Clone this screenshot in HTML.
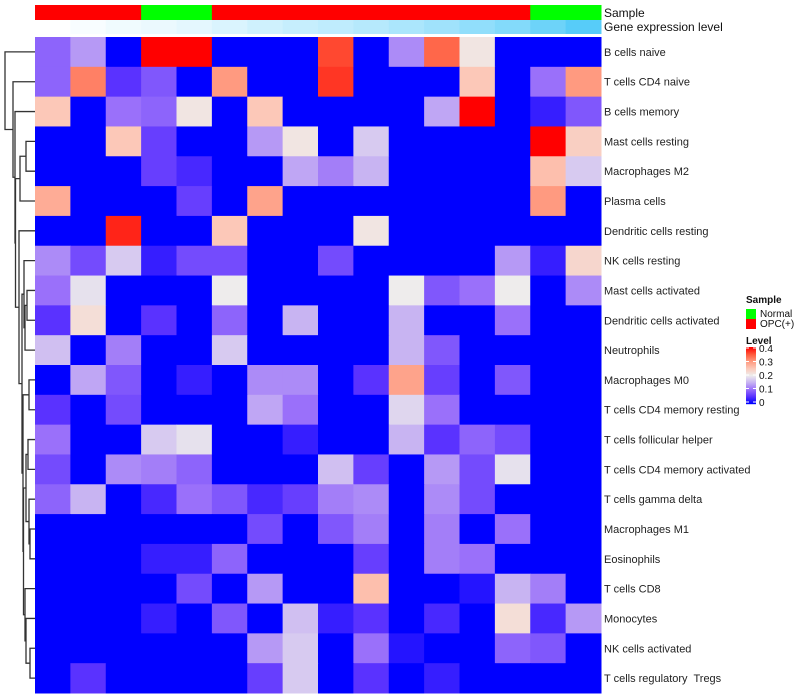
<!DOCTYPE html>
<html><head><meta charset="utf-8"><style>
html,body{margin:0;padding:0;background:#fff;}
svg{display:block;font-family:"Liberation Sans",sans-serif;}
</style></head><body>
<svg id="chart" width="800" height="700" viewBox="0 0 800 700" xmlns="http://www.w3.org/2000/svg"></svg>
<script>
const rowLabels = ["B cells naive","T cells CD4 naive","B cells memory","Mast cells resting","Macrophages M2","Plasma cells","Dendritic cells resting","NK cells resting","Mast cells activated","Dendritic cells activated","Neutrophils","Macrophages M0","T cells CD4 memory resting","T cells follicular helper","T cells CD4 memory activated","T cells gamma delta","Macrophages M1","Eosinophils","T cells CD8","Monocytes","NK cells activated","T cells regulatory  Tregs"];
const sampleGroups = ["OPC","OPC","OPC","Normal","Normal","OPC","OPC","OPC","OPC","OPC","OPC","OPC","OPC","OPC","Normal","Normal"];
const geneLevel = [0,0.04,0.08,0.11,0.15,0.2,0.26,0.31,0.35,0.4,0.46,0.52,0.6,0.68,0.8,0.92];
const legendTicks = [0,0.1,0.2,0.3,0.4];
const values = [
[0.09,0.13,0,0.4,0.4,0,0,0,0.36,0,0.12,0.34,0.21,0,0,0],
[0.09,0.32,0.05,0.08,0,0.3,0,0,0.37,0,0,0,0.25,0,0.1,0.3],
[0.25,0,0.1,0.09,0.21,0,0.25,0,0,0,0,0.14,0.4,0,0.03,0.08],
[0,0,0.25,0.06,0,0,0.13,0.21,0,0.17,0,0,0,0,0.4,0.24],
[0,0,0,0.06,0.04,0,0,0.14,0.11,0.15,0,0,0,0,0.26,0.17],
[0.28,0,0,0,0.06,0,0.29,0,0,0,0,0,0,0,0.3,0],
[0,0,0.38,0,0,0.25,0,0,0,0.21,0,0,0,0,0,0],
[0.12,0.07,0.17,0.03,0.07,0.07,0,0,0.07,0,0,0,0,0.13,0.03,0.23],
[0.1,0.19,0,0,0,0.2,0,0,0,0,0.2,0.08,0.1,0.2,0,0.12],
[0.05,0.22,0,0.05,0,0.09,0,0.15,0,0,0.15,0,0,0.1,0,0],
[0.16,0,0.11,0,0,0.17,0,0,0,0,0.15,0.08,0,0,0,0],
[0,0.14,0.08,0,0.03,0,0.12,0.12,0,0.05,0.29,0.06,0,0.08,0,0],
[0.05,0,0.07,0,0,0,0.14,0.1,0,0,0.18,0.1,0,0,0,0],
[0.1,0,0,0.17,0.19,0,0,0.03,0,0,0.15,0.05,0.09,0.07,0,0],
[0.07,0,0.12,0.11,0.09,0,0,0,0.16,0.06,0,0.13,0.07,0.19,0,0],
[0.09,0.15,0,0.04,0.1,0.08,0.04,0.06,0.11,0.12,0,0.12,0.07,0,0,0],
[0,0,0,0,0,0,0.07,0,0.08,0.11,0,0.11,0,0.1,0,0],
[0,0,0,0.03,0.03,0.09,0,0,0,0.06,0,0.11,0.1,0,0,0],
[0,0,0,0,0.07,0,0.13,0,0,0.26,0,0,0.02,0.15,0.11,0],
[0,0,0,0.03,0,0.08,0,0.16,0.03,0.05,0,0.04,0,0.22,0.04,0.13],
[0,0,0,0,0,0,0.13,0.17,0,0.1,0.02,0,0,0.09,0.08,0],
[0,0.05,0,0,0,0,0.06,0.17,0,0.05,0,0.03,0,0,0,0]
];
const NS="http://www.w3.org/2000/svg";
const svg=document.getElementById('chart');
const X0=35,X1=601,Y0=37,Y1=693;
const nC=values[0].length,nR=values.length;
const cw=(X1-X0)/nC,rh=(Y1-Y0)/nR;
function xPos(c){return X0+c*cw;}
function yPos(r){return Y0+r*rh;}
const stops=[[0,[0,0,255]],[0.05,[90,50,255]],[0.1,[154,112,250]],[0.15,[200,180,242]],[0.2,[238,236,236]],[0.25,[252,200,184]],[0.3,[255,154,128]],[0.35,[255,90,60]],[0.4,[255,0,0]]];
function colorOf(v){
  v=Math.max(0,Math.min(0.4,v));
  for(let i=1;i<stops.length;i++){
    if(v<=stops[i][0]){const a=stops[i-1],b=stops[i];const t=(v-a[0])/(b[0]-a[0]);
      return 'rgb('+a[1].map((x,k)=>Math.round(x+(b[1][k]-x)*t)).join(',')+')';}
  }
  return 'rgb(255,0,0)';
}
function geneColor(t){const a=[255,255,255],b=[72,200,248];return 'rgb('+a.map((x,k)=>Math.round(x+(b[k]-x)*t)).join(',')+')';}
function mk(tag,attrs){const e=document.createElementNS(NS,tag);for(const k in attrs)e.setAttribute(k,attrs[k]);svg.appendChild(e);return e;}
for(let c=0;c<nC;c++){
  const s=mk('rect',{x:xPos(c),y:5,width:cw+0.5,height:15,fill:sampleGroups[c]==='Normal'?'#00ff00':'#ff0000'});
  
  
  const g=mk('rect',{x:xPos(c),y:20,width:cw+0.5,height:14,fill:geneColor(geneLevel[c])});
  
  
}
let t=mk('text',{x:604,y:17,'font-size':12,fill:'#111'});t.textContent='Sample';


t=mk('text',{x:604,y:31,'font-size':12,fill:'#111'});t.textContent='Gene expression level';


for(let r=0;r<nR;r++){for(let c=0;c<nC;c++){
  const e=mk('rect',{x:xPos(c),y:yPos(r),width:cw+0.5,height:rh+0.5,fill:colorOf(values[r][c])});
  
  
}}
for(let r=0;r<nR;r++){
  const e=mk('text',{x:604,y:yPos(r)+rh/2+4,'font-size':11,fill:'#222',style:'white-space:pre'});e.textContent=rowLabels[r];
  
  
}
const tree={h:5,c:[0,{h:13,c:[1,{h:15,c:[2,{h:15.5,c:[{h:20,c:[{h:26,c:[3,4]},5]},{h:19,c:[6,{h:22,c:[{h:24,c:[7,{h:25,c:[{h:27,c:[8,9]},10]}]},{h:23,c:[{h:29,c:[11,12]},{h:23.5,c:[{h:26,c:[{h:28,c:[13,14]},{h:29,c:[15,{h:30,c:[16,17]}]}]},{h:25,c:[18,{h:26,c:[19,{h:30,c:[20,21]}]}]}]}]}]}]}]}]}]}]};
function draw(n){
  if(typeof n==='number')return {y:yPos(n)+rh/2,x:X0};
  const a=draw(n.c[0]),b=draw(n.c[1]);
  const p=mk('path',{d:`M${a.x},${a.y}H${n.h}V${b.y}H${b.x}`,fill:'none',stroke:'#333','stroke-width':1.3});
  
  
  return {y:(a.y+b.y)/2,x:n.h};
}
draw(tree);
t=mk('text',{x:746,y:303,'font-size':10,'font-weight':'bold',fill:'#111'});t.textContent='Sample';


const lg=[['Normal','#00ff00'],['OPC(+)','#ff0000']];
lg.forEach((d,i)=>{
  const b=mk('rect',{x:746,y:309+i*10,width:10,height:10,fill:d[1]});
  
  
  const l=mk('text',{x:760,y:317+i*10,'font-size':10,fill:'#111'});l.textContent=d[0];
  
  
});
t=mk('text',{x:746,y:344,'font-size':10,'font-weight':'bold',fill:'#111'});t.textContent='Level';


const LY0=347,LY1=404;
for(let i=0;i<57;i++){
  const v=0.4*(1-i/56);
  const e=mk('rect',{x:746,y:LY0+i,width:10,height:1.2,fill:colorOf(v)});
  
  
}
legendTicks.forEach(v=>{
  const y=LY1-(v/0.4)*(LY1-LY0-3)-2;
  const ln=mk('line',{x1:746,x2:749,y1:y,y2:y,stroke:'#fff','stroke-width':1});
  
  
  const ln2=mk('line',{x1:753,x2:756,y1:y,y2:y,stroke:'#fff','stroke-width':1});
  
  
  const l=mk('text',{x:759,y:y+4,'font-size':10,fill:'#111'});l.textContent=String(v);
  
  
});
</script>
</body></html>
